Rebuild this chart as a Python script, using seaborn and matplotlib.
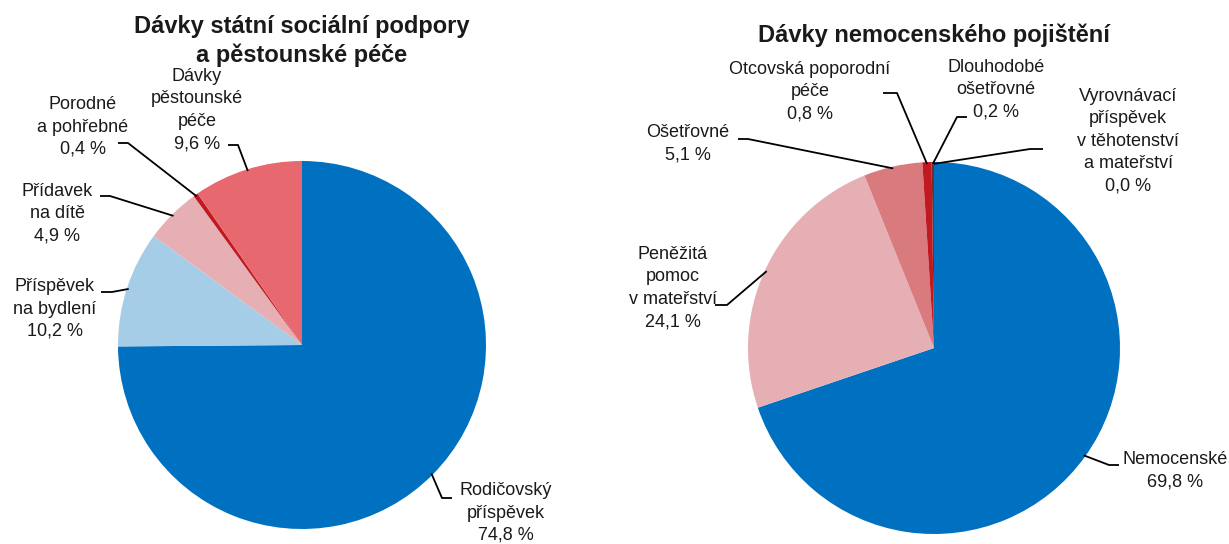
import numpy as np
import matplotlib
matplotlib.use("Agg")
import matplotlib.pyplot as plt
import seaborn as sns

# DATA

left_title = "Dávky státní sociální podpory\na pěstounské péče"
left_names = ["Rodičovský\npříspěvek", "Příspěvek\nna bydlení", "Přídavek\nna dítě",
              "Porodné\na pohřebné", "Dávky\npěstounské\npéče"]
left_values = [74.8, 10.2, 4.9, 0.4, 9.6]
left_colors = ["#0070C0", "#A6CDE8", "#E6AFB4", "#C0191F", "#E8686F"]

right_title = "Dávky nemocenského pojištění"
right_names = ["Nemocenské", "Peněžitá\npomoc\nv mateřství", "Ošetřovné",
               "Otcovská poporodní\npéče", "Dlouhodobé\nošetřovné",
               "Vyrovnávací\npříspěvek\nv těhotenství\na mateřství"]
right_values = [69.8, 24.1, 5.1, 0.8, 0.2, 0.0]
right_colors = ["#0070C0", "#E6AFB4", "#D97B7E", "#C0191F", "#7B2B2B", "#0070C0"]

# LAYOUT (pixels, y from top)

W, H = 1229, 544

left_center = (302, 345)
left_radius = 184
# text x, text y, elbow x, elbow y, end x
left_layout = [
    (506, 513, 442, 498, 452),
    (55, 309, 112, 292, 101),
    (57, 214, 110, 196, 100),
    (83, 127, 128, 143, 118),
    (197, 110, 238, 145, 228),
]

right_center = (934, 348)
right_radius = 186
right_layout = [
    (1175, 471, 1109, 465, 1119),
    (673, 288, 727, 305, 715),
    (688, 144, 748, 139, 738),
    (810, 92, 897, 93, 883),
    (996, 90, 957, 117, 967),
    (1128, 141, 1030, 149, 1043),
]

sns.set_theme(style="white")
plt.rcParams["font.family"] = ["Liberation Sans", "DejaVu Sans"]

TEXT = "#1a1a1a"


def py(y):
    return H - y


def fmt(name, v):
    return name + "\n" + f"{v:.1f} %".replace(".", ",")


def draw_pie(ax, names, values, colors, center, radius, layout, title, title_y):
    wedges, _ = ax.pie(
        values,
        colors=colors,
        startangle=90,
        counterclock=False,
        center=(center[0], py(center[1])),
        radius=radius,
        normalize=True,
        wedgeprops=dict(linewidth=0),
    )

    # leader lines from the wedge edge, with a short horizontal end
    for w, name, v, (tx, ty, ex, ey, endx) in zip(wedges, names, values, layout):
        mid = np.deg2rad((w.theta1 + w.theta2) / 2)
        ax_x = w.center[0] + w.r * 0.99 * np.cos(mid)
        ax_y = w.center[1] + w.r * 0.99 * np.sin(mid)
        ax.plot([ax_x, ex, endx], [ax_y, py(ey), py(ey)],
                color="black", lw=1.3, solid_capstyle="butt", zorder=3)
        ax.text(tx, py(ty), fmt(name, v), ha="center", va="center",
                fontsize=13, color=TEXT, linespacing=1.42)

    ax.text(center[0], py(title_y), title, ha="center", va="center",
            fontsize=17, fontweight="bold", color=TEXT, linespacing=1.25)


fig = plt.figure(figsize=(W / 100, H / 100), dpi=100)
ax = fig.add_axes([0, 0, 1, 1])

draw_pie(ax, left_names, left_values, left_colors, left_center, left_radius,
         left_layout, left_title, 41)
draw_pie(ax, right_names, right_values, right_colors, right_center, right_radius,
         right_layout, right_title, 35)

ax.set_xlim(0, W)
ax.set_ylim(0, H)
ax.set_aspect("equal")
ax.set_axis_off()

fig.savefig("out.png", dpi=100, facecolor="white")
